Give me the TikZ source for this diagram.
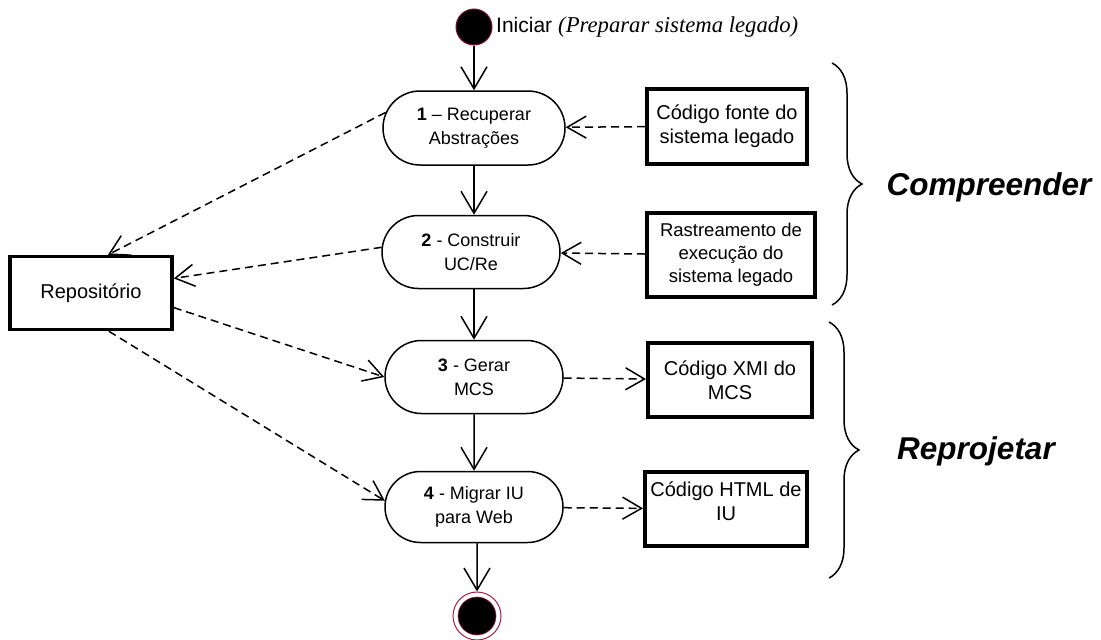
\documentclass[tikz,border=0pt]{standalone}
\usepackage{fontspec}
\setmainfont{Liberation Sans}
\newfontfamily\seriffont{Liberation Serif}
\usetikzlibrary{arrows.meta,shapes.misc,decorations.pathreplacing,calc}

\definecolor{startred}{HTML}{7A1030}
\definecolor{endred}{HTML}{A32145}

\tikzset{
  activity/.style={rounded rectangle, draw, line width=1.5pt, minimum width=180pt,
    minimum height=73pt, inner sep=0pt, align=center,
    font=\fontsize{18}{24}\selectfont},
  artifact/.style={rectangle, draw, line width=4pt, inner sep=0pt, align=center,
    font=\fontsize{20}{24}\selectfont},
  flow/.style={line width=1.5pt, -{Straight Barb[length=22pt,width=26pt]}},
  dep/.style={line width=1.5pt, dash pattern=on 8pt off 5pt,
    -{Straight Barb[length=19pt,width=22pt]}},
  phase/.style={anchor=base, inner sep=0pt,
    font=\fontsize{31.5}{34}\selectfont\bfseries\itshape},
  phasebrace/.style={line width=1.5pt, decorate,
    decoration={brace, amplitude=30pt}},
}

\begin{document}
\begin{tikzpicture}[x=1pt,y=-1pt]
\useasboundingbox (0,0) rectangle (1101,640);

% initial and final states
\node[circle, fill=black, draw=startred, line width=1pt, minimum size=36pt,
  inner sep=0pt] (start) at (474,27) {};
\node[anchor=base west, inner sep=0pt] (startlabel) at (496,32)
  {{\fontsize{21}{24}\selectfont Iniciar}\hspace{6pt}{\seriffont\itshape\fontsize{22.7}{24}\selectfont (Preparar sistema legado)}};
\node[circle, draw=endred, line width=1pt, minimum size=48pt, inner sep=0pt] (final) at (477,616) {};
\fill[draw=endred, line width=0.6pt] (final.center) circle (19pt);

% activities
\node[activity, minimum width=182pt, minimum height=74pt] (a1) at (474,128)
  {\textbf{1} – Recuperar\\Abstrações};
\node[activity, minimum width=178pt] (a2) at (471,252)
  {\textbf{2} - Construir\\UC/Re};
\node[activity, minimum width=178pt] (a3) at (474,377)
  {\textbf{3} - Gerar\\MCS};
\node[activity, minimum width=178pt, minimum height=71pt] (a4) at (474,507)
  {\textbf{4} - Migrar IU\\para Web};

% artifacts
\node[artifact, minimum width=160pt, minimum height=75pt] (src) at (727,126)
  {Código fonte do\\sistema legado};
\node[artifact, minimum width=168pt, minimum height=84pt,
  font=\fontsize{18.5}{23}\selectfont] (trace) at (731,255)
  {Rastreamento de\\execução do\\sistema legado};
\node[artifact, minimum width=164pt, minimum height=74pt] (xmi) at (730,380)
  {Código XMI do\\MCS};
\node[artifact, minimum width=162pt, minimum height=74pt, text depth=16pt] (html) at (726,509)
  {Código HTML de\\IU};
\node[artifact, line width=3.5pt, minimum width=162pt, minimum height=73pt] (repo) at (91,293)
  {Repositório};

% control flow
\draw[flow] (start) -- (a1);
\draw[flow] (a1.south) -- (a1.south |- a2.north);
\draw[flow] (a2.south -| a1.south) -- (a3.north);
\draw[flow] (a3) -- (a4);
\draw[flow] (a4) -- (a4.south -| final.north) -- (final);

% object flows
\draw[dep] (src) -- (a1);
\draw[dep] (trace) -- (a2);
\draw[dep] (a3) -- (xmi);
\draw[dep] (a4) -- (html);
\draw[dep] (a1.170) -- (repo.66);
\draw[dep] (a2.177) -- (repo.10);
\draw[dep] (repo.350) -- (a3.180);
\draw[dep] (repo.295) -- (a4.176);

% phases
\coordinate (c1) at (832,63);
\coordinate (c2) at (832,305);
\coordinate (r1) at (829,322);
\coordinate (r2) at (829,578);
\draw[phasebrace] (c1) -- (c2);
\draw[phasebrace] (r1) -- (r2);
\node[phase] (compreender) at (989,195) {Compreender};
\node[phase] (reprojetar) at (976,459) {Reprojetar};
\end{tikzpicture}
\end{document}
